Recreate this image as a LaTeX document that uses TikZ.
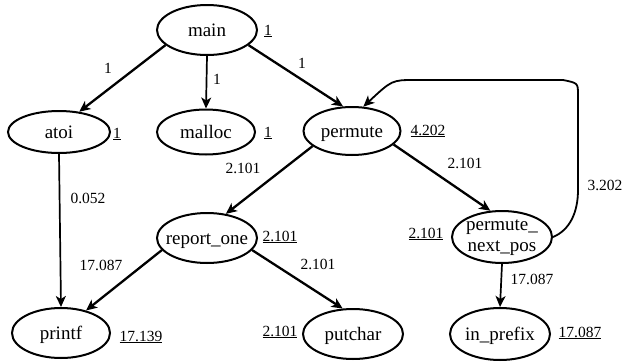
\documentclass[tikz,border=0pt]{standalone}
\usepackage{fontspec}
\setmainfont{Liberation Serif}
\usetikzlibrary{shapes.geometric,arrows.meta}
\newcommand{\fnbox}[1]{\makebox[0pt]{\raisebox{0pt}[0pt][0pt]{#1}}}
\begin{document}
\begin{tikzpicture}[x=1pt,y=-1pt,
  fn/.style={draw,ellipse,line width=2pt,minimum width=100pt,minimum height=50pt,inner sep=0pt,
    font=\fontsize{19}{21}\selectfont,text depth=0pt,text height=0pt},
  cnt/.style={font=\fontsize{15.5}{17}\selectfont,inner sep=0pt},
  elab/.style={font=\fontsize{15.5}{17}\selectfont,inner sep=0pt},
  tip/.style={-{Stealth[length=11pt,width=10pt,inset=3pt]}},
  call/.style={line width=2.3pt,tip},
  vcall/.style={line width=1.7pt,tip}
]
\useasboundingbox (0,0) rectangle (627,362);
% functions
\node[fn] (main) at (207,30) {\fnbox{\raisebox{-6pt}{main}}};
\node[fn,minimum width=102pt,minimum height=42pt] (atoi) at (59,132) {\fnbox{\raisebox{-6pt}{atoi}}};
\node[fn,minimum width=98pt,minimum height=45pt] (malloc) at (206,132) {\fnbox{\raisebox{-6pt}{malloc}}};
\node[fn,minimum width=97pt,minimum height=48pt] (permute) at (352,131) {\fnbox{\raisebox{-6pt}{permute}}};
\node[fn] (report) at (207,238) {\fnbox{\raisebox{-6pt}{report\_one}}};
\node[fn,minimum width=98pt] (printf) at (61,333) {\fnbox{\raisebox{-6pt}{printf}}};
\node[fn] (putchar) at (353,334) {\fnbox{\raisebox{-6pt}{putchar}}};
\node[fn,minimum height=52pt] (pnp) at (502,237)
  {\fnbox{\raisebox{-4pt}{\begin{tabular}{@{}c@{}}permute\_\\next\_pos\end{tabular}}}};
\node[fn,minimum height=52pt] (inprefix) at (500,334) {\fnbox{\raisebox{-6pt}{in\_prefix}}};
% counts
\node[cnt] (cmain) at (268,31) {\underline{1}};
\node[cnt] (catoi) at (117,134) {\underline{1}};
\node[cnt] (cmalloc) at (268,133) {\underline{1}};
\node[cnt] (cpermute) at (428,131) {\underline{4.202}};
\node[cnt] (creport) at (280,237) {\underline{2.101}};
\node[cnt] (cprintf) at (141,337) {\underline{17.139}};
\node[cnt] (cputchar) at (280,332) {\underline{2.101}};
\node[cnt] (cpnp) at (426,234) {\underline{2.101}};
\node[cnt] (cinprefix) at (580,333) {\underline{17.087}};
% calls
\draw[call] (main.200) -- (atoi.45);
\draw[vcall] (main.south) -- (malloc.north);
\draw[call] (main.340) -- (permute.110);
\draw[call] (permute.201) -- (report.52);
\draw[call] (permute.342) -- (pnp.114);
\draw[vcall] (atoi.south) -- (printf.north);
\draw[call] (report.195) -- (printf.42);
\draw[call] (report.345) -- (putchar.112);
\draw[vcall] (pnp.south) -- (inprefix.north);
% recursive call
\coordinate (r1) at (578,190);
\coordinate (r2) at (578,95);
\coordinate (r3) at (563,80);
\coordinate (r4) at (415,80);
\draw[line width=1.8pt,tip]
  (pnp.east) .. controls (570,230) and (578,212) .. (r1) -- (r2)
  .. controls (578,83) .. (r3) -- (r4) .. controls (392,80) .. (permute.65);
% edge labels
\node[elab] (e1) at (108,68) {1};
\node[elab] (e2) at (217,79) {1};
\node[elab] (e3) at (302,63) {1};
\node[elab] (e4) at (243,168) {2.101};
\node[elab] (e5) at (465,163) {2.101};
\node[elab] (e6) at (605,185) {3.202};
\node[elab] (e7) at (88,198) {0.052};
\node[elab] (e8) at (101,265) {17.087};
\node[elab] (e9) at (318,264) {2.101};
\node[elab] (e10) at (532,279) {17.087};
\end{tikzpicture}
\end{document}
